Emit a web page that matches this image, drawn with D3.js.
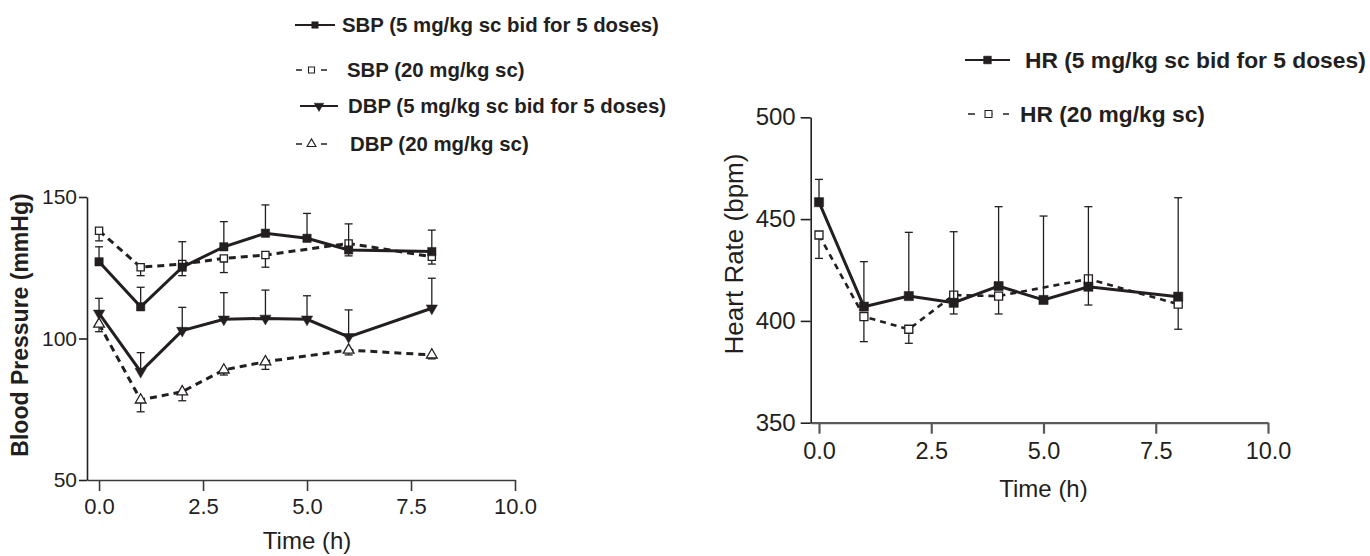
<!DOCTYPE html>
<html>
<head>
<meta charset="utf-8">
<script src="https://cdn.jsdelivr.net/npm/d3@7"></script>
<style>
  body { margin: 0; background: #fff; }
  svg text { font-family: "Liberation Sans", Arial, Helvetica, sans-serif; fill: #231f20; }
</style>
</head>
<body>
<script>
// time points (h); the 20 mg/kg groups have no 5 h reading
var times = [0, 1, 2, 3, 4, 5, 6, 8];
var times20 = [0, 1, 2, 3, 4, 6, 8];

// blood pressure (mmHg), mean and one-sided error
var sbp5 = [127.1, 111.2, 125.2, 132.4, 137.2, 135.4, 131.3, 130.7];
var sbp5Err = [5.3, 6.9, 9.0, 8.9, 10.0, 8.8, 9.2, 7.6];
var sbp20 = [138.1, 125.2, 126.3, 128.3, 129.5, 133.6, 128.9];
var sbp20Err = [3.6, 3.0, 4.1, 5.0, 4.3, 4.4, 2.6];
var dbp5 = [108.9, 88.3, 102.8, 106.8, 107.1, 106.8, 100.6, 110.7];
var dbp5Err = [5.3, 6.7, 8.2, 9.4, 10.0, 8.3, 9.5, 10.6];
var dbp20 = [105.1, 78.3, 81.2, 88.9, 91.8, 95.9, 94.2];
var dbp20Err = [2.7, 4.2, 3.2, 1.8, 2.7, 1.7, 1.4];

// heart rate (bpm)
var hr5 = [458.3, 407.0, 412.2, 408.9, 417.1, 410.3, 416.8, 411.9];
var hr5Err = [11.2, 22.1, 31.3, 34.9, 39.0, 41.2, 39.3, 48.6];
var hr20 = [442.2, 402.1, 395.9, 412.7, 412.2, 420.6, 408.2];
var hr20Err = [11.5, 12.3, 6.9, 9.3, 8.8, 12.8, 12.3];

var timeTicks = [0, 2.5, 5, 7.5, 10];
var bpTicks = [50, 100, 150];
var hrTicks = [350, 400, 450, 500];

var ink = "#231f20";

var svg = d3.select("body")
            .append("svg")
            .attr("width", 1370)
            .attr("height", 556);

// ---------- helpers ----------
function marker(kind, size) {
  var type = (kind == "triDown" || kind == "triUp") ? d3.symbolTriangle : d3.symbolSquare;
  return d3.symbol().type(type).size(size)();
}

function drawSeries(g, x, y, ts, vals, errs, dir, o) {
  var pts = ts.map(function(t, i) { return {t: t, v: vals[i], e: errs[i]}; });

  // error bars, one direction only
  var eb = g.append("g").attr("stroke", ink).attr("stroke-width", 1.3).attr("fill", "none");
  pts.forEach(function(d) {
    var end = y(d.v + dir * d.e);
    eb.append("line").attr("x1", x(d.t)).attr("x2", x(d.t)).attr("y1", y(d.v)).attr("y2", end);
    eb.append("line").attr("x1", x(d.t) - o.cap).attr("x2", x(d.t) + o.cap).attr("y1", end).attr("y2", end);
  });

  var line = d3.line()
               .x(function(d) { return x(d.t); })
               .y(function(d) { return y(d.v); });

  g.append("path")
   .attr("d", line(pts))
   .attr("fill", "none")
   .attr("stroke", ink)
   .attr("stroke-width", o.width)
   .attr("stroke-dasharray", o.dash || null);

  g.selectAll(null)
   .data(pts)
   .enter()
   .append("path")
   .attr("d", marker(o.kind, o.size))
   .attr("transform", function(d) {
     return "translate(" + x(d.t) + "," + y(d.v) + ")" + (o.kind == "triDown" ? " rotate(180)" : "");
   })
   .attr("fill", o.open ? "#fff" : ink)
   .attr("stroke", ink)
   .attr("stroke-width", o.open ? 1.3 : 0.5);
}

function legendItem(g, x0, len, yy, textX, label, o, fontSize) {
  var it = g.append("g");
  it.append("line")
    .attr("x1", x0).attr("x2", x0 + len)
    .attr("y1", yy).attr("y2", yy)
    .attr("stroke", ink)
    .attr("stroke-width", o.dash ? 1.3 : 1.8)
    .attr("stroke-dasharray", o.dash || null);
  it.append("path")
    .attr("d", marker(o.kind, o.legSize))
    .attr("transform", "translate(" + (x0 + len / 2) + "," + yy + ")" + (o.kind == "triDown" ? " rotate(180)" : ""))
    .attr("fill", o.open ? "#fff" : ink)
    .attr("stroke", ink)
    .attr("stroke-width", o.open ? 1.1 : 0.5);
  it.append("text")
    .attr("x", textX).attr("y", yy)
    .attr("dy", "0.35em")
    .style("font-size", fontSize + "px")
    .style("font-weight", "bold")
    .text(label);
}

function styleAxis(g, fontSize, color, width) {
  g.attr("font-family", null).attr("font-size", null).attr("color", color);
  g.selectAll("path, line").attr("stroke-width", width);
  g.selectAll("text").style("font-size", fontSize + "px").style("fill", ink);
}

// ---------- left: blood pressure ----------
var xL = d3.scaleLinear().domain([-0.29, 10]).range([87, 515]);
var yL = d3.scaleLinear().domain([50, 150]).range([480, 197]);

var left = svg.append("g");

var axL = left.append("g")
              .attr("transform", "translate(0,480)")
              .call(d3.axisBottom(xL).tickValues(timeTicks).tickFormat(d3.format(".1f"))
                      .tickSize(11).tickSizeOuter(0).tickPadding(7));
styleAxis(axL, 22, "#3a3a3a", 1.6);

var ayL = left.append("g")
              .attr("transform", "translate(87,0)")
              .call(d3.axisLeft(yL).tickValues(bpTicks).tickFormat(d3.format("d"))
                      .tickSize(8).tickSizeOuter(0).tickPadding(2));
styleAxis(ayL, 21, "#231f20", 1.6);

var sbp5Style = {kind: "square", size: 70, legSize: 42, width: 3, cap: 4};
var sbp20Style = {kind: "square", open: true, size: 52, legSize: 36, width: 3, dash: "7,5", cap: 4};
var dbp5Style = {kind: "triDown", size: 55, legSize: 40, width: 3, cap: 4};
var dbp20Style = {kind: "triUp", open: true, size: 50, legSize: 34, width: 3, dash: "7,5", cap: 4};

drawSeries(left.append("g"), xL, yL, times20, sbp20, sbp20Err, -1, sbp20Style);
drawSeries(left.append("g"), xL, yL, times20, dbp20, dbp20Err, -1, dbp20Style);
drawSeries(left.append("g"), xL, yL, times, sbp5, sbp5Err, 1, sbp5Style);
drawSeries(left.append("g"), xL, yL, times, dbp5, dbp5Err, 1, dbp5Style);

left.append("text")
    .attr("transform", "translate(28,325) rotate(-90)")
    .attr("text-anchor", "middle")
    .style("font-size", "23px")
    .style("font-weight", "bold")
    .text("Blood Pressure (mmHg)");

left.append("text")
    .attr("x", xL(5)).attr("y", 549)
    .attr("text-anchor", "middle")
    .style("font-size", "24px")
    .text("Time (h)");

var legL = left.append("g");
legendItem(legL, 295, 40, 25, 342, "SBP (5 mg/kg sc bid for 5 doses)", sbp5Style, 20.4);
legendItem(legL, 296, 31, 70, 347, "SBP (20 mg/kg sc)", Object.assign({}, sbp20Style, {dash: "6,6.5"}), 20.4);
legendItem(legL, 300, 38, 106, 348, "DBP (5 mg/kg sc bid for 5 doses)", dbp5Style, 20.4);
legendItem(legL, 296, 31, 144, 350, "DBP (20 mg/kg sc)", Object.assign({}, dbp20Style, {dash: "6,6.5"}), 20.4);

// ---------- right: heart rate ----------
var xR = d3.scaleLinear().domain([-0.185, 10]).range([810.7, 1268]);
var yR = d3.scaleLinear().domain([350, 500]).range([422.7, 117.3]);

var right = svg.append("g");

var axR = right.append("g")
               .attr("transform", "translate(0,422.7)")
               .call(d3.axisBottom(xR).tickValues(timeTicks).tickFormat(d3.format(".1f"))
                       .tickSize(11).tickSizeOuter(0).tickPadding(9));
styleAxis(axR, 23.5, "#5a5a5a", 2.2);

var ayR = right.append("g")
               .attr("transform", "translate(810.7,0)")
               .call(d3.axisLeft(yR).tickValues(hrTicks).tickFormat(d3.format("d"))
                       .tickSize(10).tickSizeOuter(0).tickPadding(5));
styleAxis(ayR, 24, "#231f20", 1.6);

var hr5Style = {kind: "square", size: 85, legSize: 60, width: 3, cap: 4};
var hr20Style = {kind: "square", open: true, size: 64, legSize: 48, width: 2.6, dash: "6,5", cap: 4};

drawSeries(right.append("g"), xR, yR, times20, hr20, hr20Err, -1, hr20Style);
drawSeries(right.append("g"), xR, yR, times, hr5, hr5Err, 1, hr5Style);

right.append("text")
     .attr("transform", "translate(743,254) rotate(-90)")
     .attr("text-anchor", "middle")
     .style("font-size", "26px")
     .text("Heart Rate (bpm)");

right.append("text")
     .attr("x", xR(5)).attr("y", 497)
     .attr("text-anchor", "middle")
     .style("font-size", "24px")
     .text("Time (h)");

var legR = right.append("g");
legendItem(legR, 965, 45, 60, 1025, "HR (5 mg/kg sc bid for 5 doses)", hr5Style, 22.8);
legendItem(legR, 968, 41, 114, 1020, "HR (20 mg/kg sc)", Object.assign({}, hr20Style, {dash: "7,10.5"}), 22.8);
</script>
</body>
</html>
